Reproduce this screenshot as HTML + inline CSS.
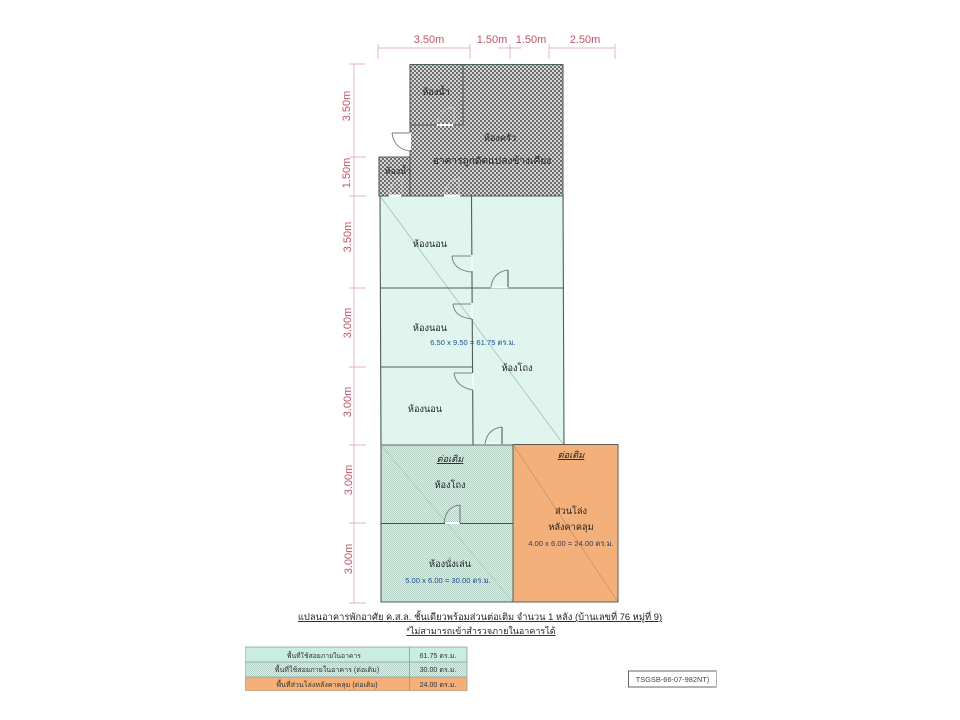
<!DOCTYPE html>
<html lang="th">
<head>
<meta charset="utf-8">
<title>แปลนอาคารพักอาศัย</title>
<style>
html,body{margin:0;padding:0;background:#fff;width:960px;height:720px;overflow:hidden}
svg{display:block;font-family:"Liberation Sans","Noto Sans CJK SC",sans-serif}
.dim{fill:#bd5568;font-size:11px}
.dl{stroke:#dfb4ba;stroke-width:.9;fill:none}
.wall{stroke:#4f5f5c;stroke-width:1.1;fill:none}
.lab{fill:#222;font-size:9.2px;text-anchor:middle}
.blue{fill:#1f4f8f;font-size:7.6px;text-anchor:middle}
.door{stroke:#7b8886;stroke-width:1;fill:none}
.jamb{stroke:#8b9694;stroke-width:1.8;fill:none}
.gap{stroke:#f2fbf8;stroke-width:2;fill:none}
.tb{fill:#333;font-size:7.1px;text-anchor:middle}
</style>
</head>
<body>
<svg width="960" height="720" viewBox="0 0 960 720" xmlns="http://www.w3.org/2000/svg">
<defs>
<pattern id="hatch" width="4" height="4" patternUnits="userSpaceOnUse">
<rect width="4" height="4" fill="#d6d6d6"/>
<rect width="2" height="2" fill="#6c6c6c"/>
<rect x="2" y="2" width="2" height="2" fill="#6c6c6c"/>
</pattern>
<pattern id="dots" width="2" height="2" patternUnits="userSpaceOnUse">
<rect width="2" height="2" fill="#dcf1e9"/>
<rect width="1" height="1" fill="#b4cfc4"/>
<rect x="1" y="1" width="1" height="1" fill="#b4cfc4"/>
</pattern>
<filter id="soft" x="0" y="0" width="100%" height="100%"><feGaussianBlur stdDeviation="0.3"/></filter>
</defs>

<rect width="960" height="720" fill="#fff"/>
<g filter="url(#soft)">

<!-- top dimensions -->
<g class="dl">
<path d="M378 48H470M498 48H521M549 48H615"/>
<path d="M378 44V59M470 44V59M510 44V59M549 44V59M615 44V59"/>
<!-- left dimensions -->
<path d="M354 64V603"/>
<path d="M349 64H365M349 157H366M349 196H366M349 288H366M349 367H366M349 445H366M349 523H366M349 603H366"/>
</g>
<g>
<text class="dim" x="429" y="43" text-anchor="middle">3.50m</text>
<text class="dim" x="492" y="43" text-anchor="middle">1.50m</text>
<text class="dim" x="531" y="43" text-anchor="middle">1.50m</text>
<text class="dim" x="585" y="43" text-anchor="middle">2.50m</text>
<text class="dim" transform="translate(350 106) rotate(-90)" text-anchor="middle">3.50m</text>
<text class="dim" transform="translate(350 173) rotate(-90)" text-anchor="middle">1.50m</text>
<text class="dim" transform="translate(351 237) rotate(-90)" text-anchor="middle">3.50m</text>
<text class="dim" transform="translate(351 323) rotate(-90)" text-anchor="middle">3.00m</text>
<text class="dim" transform="translate(351 402) rotate(-90)" text-anchor="middle">3.00m</text>
<text class="dim" transform="translate(352 480) rotate(-90)" text-anchor="middle">3.00m</text>
<text class="dim" transform="translate(352 559) rotate(-90)" text-anchor="middle">3.00m</text>
</g>

<!-- green main -->
<rect x="380" y="196" width="184" height="249" fill="#dff5ee"/>
<path d="M380 196L564 445" stroke="#9fb8b0" stroke-width=".7"/>
<path d="M380 196L381 445H564L563 196Z" class="wall"/>
<path d="M471.5 196L473 445" class="wall"/>
<path d="M380 288H564M380.5 367H472.5" class="wall"/>

<!-- hatched upper -->
<path d="M410 64H563V196H379V157H410Z" fill="url(#hatch)"/>
<path d="M410 157V64.5H563V196H379V157H410V196" class="wall"/>
<path d="M410 125H463V64.5" class="wall"/>

<!-- hatched door gaps -->
<path d="M437 125H453M389 195.5H401M444 195.5H460" stroke="#fff" stroke-width="2"/>
<path d="M454 124V107Q441 108 437 124" stroke="#ccc" stroke-width=".8" fill="none"/>
<path d="M402 195V178Q391 180 389 195" stroke="#ccc" stroke-width=".8" fill="none"/>
<path d="M459 195V178Q447 180 444 195" stroke="#ccc" stroke-width=".8" fill="none"/>

<!-- outer door on kitchen -->
<path d="M392 133H410V151Q394 149 392 133Z" fill="#fff"/>
<path d="M392 133H410M392 133Q394 149 410 151" stroke="#777" stroke-width=".9" fill="none"/>
<path d="M410 133V150" stroke="#fff" stroke-width="2"/>

<!-- doors in green -->
<path d="M472 255V271M472 303V319M473 373V390" class="gap"/>
<path d="M452 256H471M452 256Q453 270 471 272" class="door"/>
<path d="M453 304H471M453 304Q454 317 472 319" class="door"/>
<path d="M454 373H472M454 373Q456 387 473 390" class="door"/>
<path d="M491 287H508" stroke="#f2fbf8" stroke-width="2.5"/>
<path d="M508 287V270" class="jamb"/><path d="M491 287Q493 272 508 270" class="door"/>
<path d="M485 444H502" stroke="#f2fbf8" stroke-width="2.5"/>
<path d="M502 444V427" class="jamb"/><path d="M485 444Q487 429 502 427" class="door"/>

<!-- dotted lower -->
<rect x="381" y="445" width="132" height="157" fill="url(#dots)"/>
<path d="M381 445H513" stroke="#5c6a66" stroke-width="1"/>
<path d="M381 445V602H513" class="wall"/>
<path d="M381 523.5H513" stroke="#3f4f4b" stroke-width="1"/>
<path d="M381 445L513 602" stroke="#a9c2b8" stroke-width=".6"/>
<path d="M445 523H460" stroke="#fff" stroke-width="2"/>
<path d="M460 523V505" stroke="#8b9694" stroke-width="1.6"/>
<path d="M444 523Q446 506 460 505" stroke="#666" stroke-width=".8" fill="none"/>

<!-- orange -->
<rect x="513" y="444.5" width="105" height="157.5" fill="#f3b07a" stroke="#5d5a52" stroke-width="1"/>
<path d="M513 444.5L618 602" stroke="#b98a60" stroke-width=".6"/>

<!-- labels -->
<g class="lab">
<text x="436" y="95">ห้องน้ำ</text>
<text x="398" y="174" style="font-size:8.8px">ห้องน้ำ</text>
<text x="500" y="141">ห้องครัว</text>
<text x="492" y="164" style="font-size:10.2px">อาคารถูกดัดแปลงข้างเคียง</text>
<text x="430" y="247">ห้องนอน</text>
<text x="430" y="331">ห้องนอน</text>
<text x="425" y="412">ห้องนอน</text>
<text x="517" y="371">ห้องโถง</text>
<text x="450" y="462" style="font-style:italic;text-decoration:underline">ต่อเติม</text>
<text x="450" y="488">ห้องโถง</text>
<text x="450" y="567">ห้องนั่งเล่น</text>
<text x="571" y="458" style="font-style:italic;text-decoration:underline">ต่อเติม</text>
<text x="571" y="514">ส่วนโล่ง</text>
<text x="571" y="530">หลังคาคลุม</text>
</g>
<text class="blue" x="473" y="345">6.50 x 9.50 = 61.75 ตร.ม.</text>
<text class="blue" x="448" y="583">5.00 x 6.00 = 30.00 ตร.ม.</text>
<text class="blue" x="571" y="546" style="fill:#3a3a5a">4.00 x 6.00 = 24.00 ตร.ม.</text>

<!-- title -->
<text x="480" y="620" text-anchor="middle" fill="#222" font-size="9.35" text-decoration="underline">แปลนอาคารพักอาศัย ค.ส.ล. ชั้นเดียวพร้อมส่วนต่อเติม จำนวน 1 หลัง  (บ้านเลขที่ 76 หมู่ที่ 9)</text>
<text x="481" y="634" text-anchor="middle" fill="#222" font-size="9" text-decoration="underline">*ไม่สามารถเข้าสำรวจภายในอาคารได้</text>

<!-- table -->
<rect x="245" y="647" width="222" height="15" fill="#c9eee0"/>
<rect x="245" y="662" width="222" height="15" fill="url(#dots)"/>
<rect x="245" y="677" width="222" height="14" fill="#f3b07a"/>
<path d="M245 647H467V691H245ZM245 662H467M245 677H467M409.5 647V691" stroke="#8f9a96" stroke-width=".8" fill="none"/>
<text class="tb" x="324" y="658" style="font-size:6.8px">พื้นที่ใช้สอยภายในอาคาร</text>
<text class="tb" x="327" y="672">พื้นที่ใช้สอยภายในอาคาร (ต่อเติม)</text>
<text class="tb" x="327" y="687">พื้นที่ส่วนโล่งหลังคาคลุม (ต่อเติม)</text>
<text class="tb" x="438" y="658">61.75 ตร.ม.</text>
<text class="tb" x="438" y="672">30.00 ตร.ม.</text>
<text class="tb" x="438" y="687">24.00 ตร.ม.</text>

<!-- stamp -->
<rect x="628.5" y="671" width="88" height="16" fill="#fff" stroke="#555" stroke-width=".9"/>
<text x="672.5" y="682" text-anchor="middle" fill="#444" font-size="7.4">TSGSB-66-07-982NT)</text>
</g>
</svg>
</body>
</html>
